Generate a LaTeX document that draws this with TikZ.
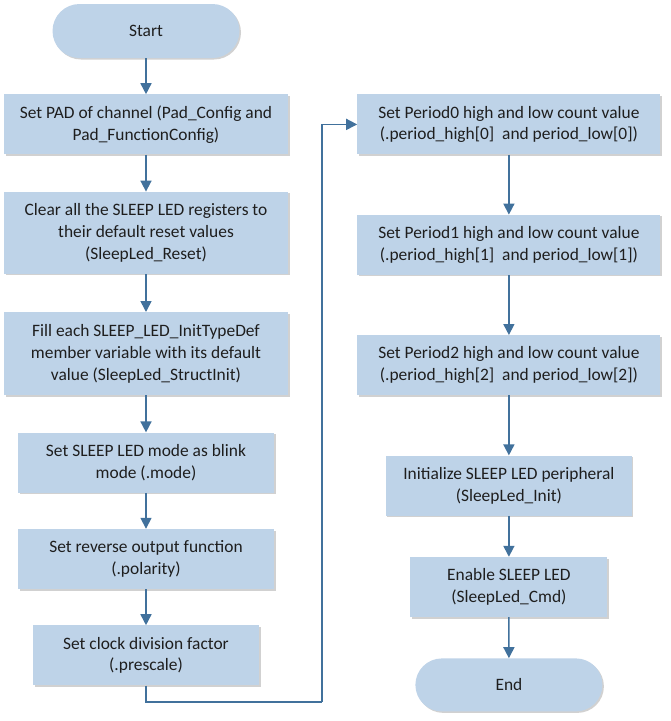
\documentclass[tikz,border=0pt]{standalone}
\usepackage{fontspec}
\setmainfont{Carlito}
\usetikzlibrary{positioning, arrows.meta, shapes.misc, shadows}
\definecolor{boxfill}{HTML}{BED3E8}
\definecolor{linec}{HTML}{41719C}
\definecolor{textc}{HTML}{1E1E1E}
\tikzset{
  ->,
  >={Triangle[width=11pt, length=11pt]},
  node distance=37pt,
  every node/.style={text=textc, font=\fontsize{17.4}{21.7}\selectfont, align=center, inner sep=0pt},
  stepbox/.style={rectangle, fill=boxfill, minimum height=60pt,
    drop shadow={shadow xshift=1.5pt, shadow yshift=-1.5pt, opacity=0.18, fill=black}},
  terminal/.style={rounded rectangle, fill=boxfill, minimum width=187pt, minimum height=54pt,
    drop shadow={shadow xshift=1.5pt, shadow yshift=-1.5pt, opacity=0.18, fill=black}},
  flow/.style={draw=linec, line width=1.6pt},
}

\begin{document}
\begin{tikzpicture}[x=1pt, y=-1pt]
		\useasboundingbox (0,0) rectangle (671,721);

		% steps
		\node[terminal] (start) at (146,31) {Start};
		\node[stepbox, minimum width=284pt, below=36pt of start] (pad) {Set PAD of channel (Pad\_Config and\\Pad\_FunctionConfig)};
		\node[stepbox, minimum width=284pt, minimum height=82pt, below=of pad] (reset) {Clear all the SLEEP LED registers to\\their default reset values\\(SleepLed\_Reset)};
		\node[stepbox, minimum width=284pt, minimum height=83pt, below=38pt of reset] (structinit) {Fill each SLEEP\_LED\_InitTypeDef\\member variable with its default\\value (SleepLed\_StructInit)};
		\node[stepbox, minimum width=256pt, below=of structinit] (mode) {Set SLEEP LED mode as blink\\mode (.mode)};
		\node[stepbox, minimum width=256pt, below=36pt of mode] (polarity) {Set reverse output function\\(.polarity)};
		\node[stepbox, minimum width=226pt, below=36pt of polarity] (prescale) {Set clock division factor\\(.prescale)};
		\node[stepbox, minimum width=303pt, right=69pt of pad] (period0) {Set Period0 high and low count value\\(.period\_high[0]\ \ and period\_low[0])};
		\node[stepbox, minimum width=303pt, below=60pt of period0] (period1) {Set Period1 high and low count value\\(.period\_high[1]\ \ and period\_low[1])};
		\node[stepbox, minimum width=303pt, below=60pt of period1] (period2) {Set Period2 high and low count value\\(.period\_high[2]\ \ and period\_low[2])};
		\node[stepbox, minimum width=246pt, below=60pt of period2] (init) {Initialize SLEEP LED peripheral\\(SleepLed\_Init)};
		\node[stepbox, minimum width=197pt, below=41pt of init] (cmd) {Enable SLEEP LED\\(SleepLed\_Cmd)};
		\node[terminal, minimum height=53pt, below=41pt of cmd] (end) {End};
		\coordinate (turn) at (322,702);

		% arrows
		\draw[flow] (start) -- (pad);
		\draw[flow] (pad) -- (reset);
		\draw[flow] (reset) -- (structinit);
		\draw[flow] (structinit) -- (mode);
		\draw[flow] (mode) -- (polarity);
		\draw[flow] (polarity) -- (prescale);
		\draw[flow, -] (prescale.south) |- (turn);
		\draw[flow] (turn) |- (period0.west);
		\draw[flow] (period0) -- (period1);
		\draw[flow] (period1) -- (period2);
		\draw[flow] (period2) -- (init);
		\draw[flow] (init) -- (cmd);
		\draw[flow] (cmd) -- (end);

	\end{tikzpicture}
\end{document}
